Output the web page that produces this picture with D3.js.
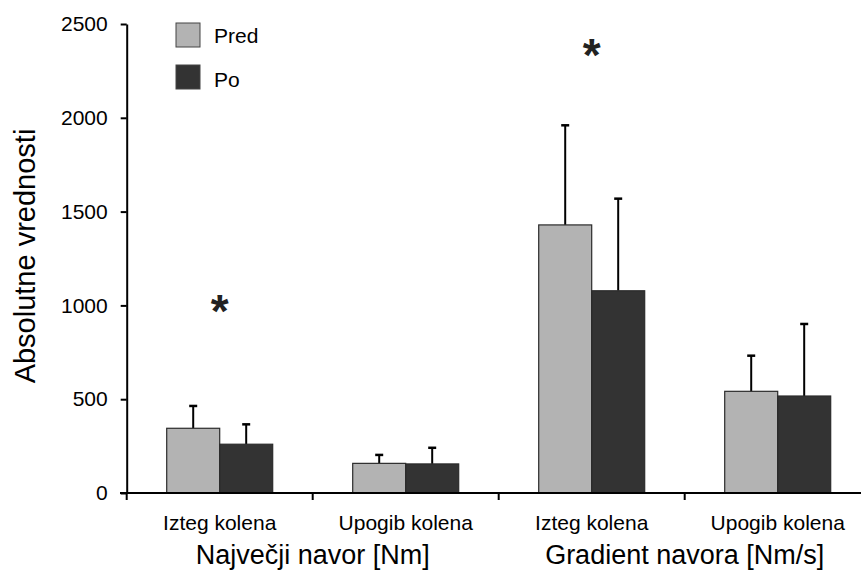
<!DOCTYPE html>
<html>
<head>
    <meta charset="utf-8" />
    <style>
        body { margin: 0; background: #fff; }
        svg { display: block; font-family: "Liberation Sans", Arial, sans-serif; }
        .axis path, .axis line { stroke: #000; stroke-width: 2; }
        .axis text { fill: #000; }
    </style>
    <script src="https://d3js.org/d3.v7.min.js"></script>
</head>
<body>
<script>

// data
let categories = ["Izteg kolena", "Upogib kolena", "Izteg kolena ", "Upogib kolena "];
let groups = ["Največji navor [Nm]", "Gradient navora [Nm/s]"];
let series = ["Pred", "Po"];
let predValues = [345, 158, 1429, 542];
let predErrors = [119, 45, 531, 190];
let poValues = [260, 155, 1078, 517];
let poErrors = [106, 86, 491, 384];
let yTicks = [0, 500, 1000, 1500, 2000, 2500];
// significance stars: category index, value
let stars = [[0, 1000], [2, 2365]];

let W = 861, H = 570;

let svg = d3.select("body")
    .append("svg")
    .attr("width", W)
    .attr("height", H);

let x = d3.scaleBand()
    .domain(categories)
    .range([126.7, 870.7]);

let xSub = d3.scaleBand()
    .domain(series)
    .range([0, x.bandwidth()])
    .paddingOuter(0.755);

let y = d3.scaleLinear()
    .domain([0, 2500])
    .range([493, 24]);

let colors = { Pred: "#b3b3b3", Po: "#333333" };

let rows = [];
categories.forEach((c, i) => {
    rows.push({ cat: c, s: "Pred", v: predValues[i], e: predErrors[i] });
    rows.push({ cat: c, s: "Po", v: poValues[i], e: poErrors[i] });
});

// error bars (behind bars)
let eb = svg.append("g");
rows.forEach(d => {
    let cx = x(d.cat) + xSub(d.s) + xSub.bandwidth() / 2;
    eb.append("line")
        .attr("x1", cx).attr("x2", cx)
        .attr("y1", y(d.v)).attr("y2", y(d.v + d.e))
        .attr("stroke", "#000").attr("stroke-width", 2);
    eb.append("line")
        .attr("x1", cx - 4).attr("x2", cx + 4)
        .attr("y1", y(d.v + d.e)).attr("y2", y(d.v + d.e))
        .attr("stroke", "#000").attr("stroke-width", 2.5);
});

// bars
svg.append("g")
    .selectAll("rect")
    .data(rows)
    .enter()
    .append("rect")
    .attr("x", d => x(d.cat) + xSub(d.s))
    .attr("y", d => y(d.v))
    .attr("width", xSub.bandwidth())
    .attr("height", d => y(0) - y(d.v))
    .attr("fill", d => colors[d.s])
    .attr("stroke", "#2b2b2b")
    .attr("stroke-width", 1.2);

// y axis
let yAxis = svg.append("g")
    .attr("class", "axis")
    .attr("transform", "translate(126.7,0)")
    .call(d3.axisLeft(y).tickValues(yTicks).tickFormat(d3.format("d"))
        .tickSize(6).tickPadding(13).tickSizeOuter(0));
yAxis.selectAll("text").style("font-size", "21px");

// x axis: labels at band centres, ticks at band edges
let xAxis = svg.append("g")
    .attr("class", "axis")
    .attr("transform", "translate(0," + y(0) + ")")
    .call(d3.axisBottom(x).tickSize(0).tickPadding(22));
xAxis.select(".domain").remove();
xAxis.selectAll("text").style("font-size", "21px");
xAxis.append("line")
    .attr("x1", 120).attr("x2", W)
    .attr("stroke", "#000").attr("stroke-width", 2);
xAxis.selectAll(".edge")
    .data(categories)
    .enter()
    .append("line")
    .attr("class", "edge")
    .attr("x1", d => x(d)).attr("x2", d => x(d))
    .attr("y1", 0).attr("y2", 7);

// group titles
groups.forEach((g, i) => {
    svg.append("text")
        .attr("x", x(categories[i * 2 + 1]))
        .attr("y", 564)
        .attr("text-anchor", "middle")
        .style("font-size", "27px")
        .text(g);
});

// y title
svg.append("text")
    .attr("transform", "translate(35,256) rotate(-90)")
    .attr("text-anchor", "middle")
    .style("font-size", "29px")
    .text("Absolutne vrednosti");

// stars
svg.selectAll(".star")
    .data(stars)
    .enter()
    .append("text")
    .attr("class", "star")
    .attr("x", d => x(categories[d[0]]) + x.bandwidth() / 2)
    .attr("y", d => y(d[1]) + 22)
    .attr("text-anchor", "middle")
    .style("font-size", "46px")
    .style("font-weight", "bold")
    .attr("fill", "#222")
    .text("*");

// legend
let legend = svg.append("g");
series.forEach((s, i) => {
    legend.append("rect")
        .attr("x", 176).attr("y", 23 + i * 42)
        .attr("width", 24).attr("height", 24)
        .attr("fill", colors[s])
        .attr("stroke", "#444").attr("stroke-width", 1);
    legend.append("text")
        .attr("x", 214).attr("y", 43 + i * 44)
        .style("font-size", "21px")
        .text(s);
});

</script>
</body>
</html>
